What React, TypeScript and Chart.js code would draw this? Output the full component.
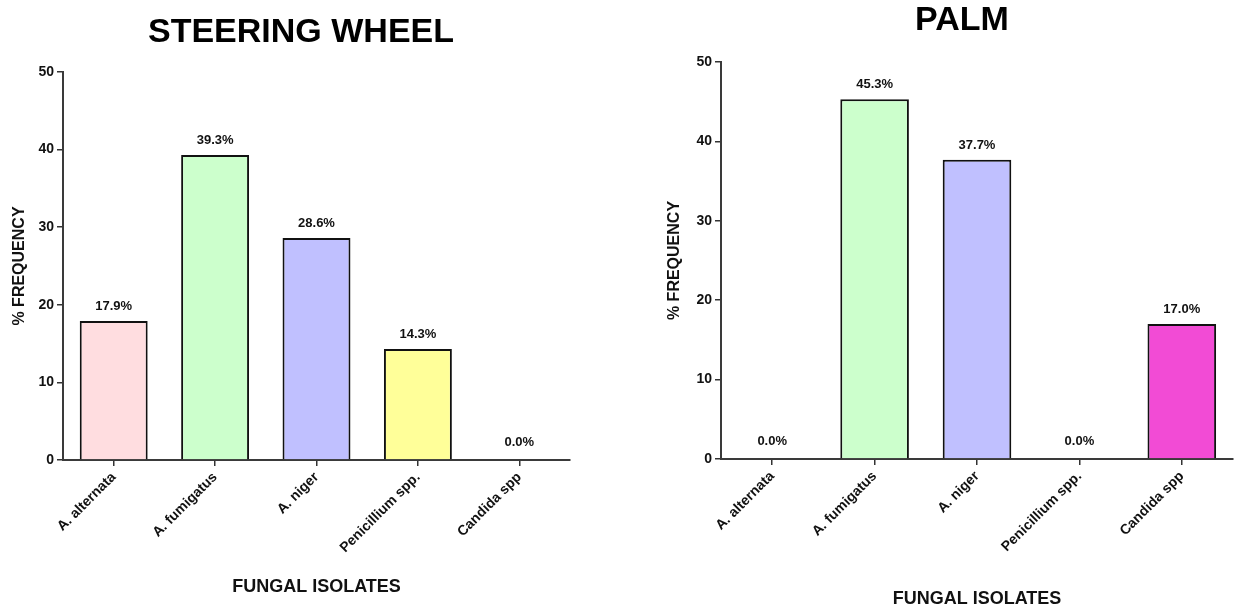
import React, { useEffect, useRef } from "react";
import { Chart, registerables } from "chart.js";

Chart.register(...registerables);

const categories = ["A. alternata", "A. fumigatus", "A. niger", "Penicillium spp.", "Candida spp"];
const steeringValues = [17.9, 39.3, 28.6, 14.3, 0.0];
const palmValues = [0.0, 45.3, 37.7, 0.0, 17.0];
const barColors = ["#FFDDE0", "#CCFFCC", "#C0C0FF", "#FFFF99", "#F24BD5"];
const yMin = 0;
const yMax = 50;
const yStep = 10;
const panelTitles = ["STEERING WHEEL", "PALM"];
const yAxisTitle = "% FREQUENCY";
const xAxisTitle = "FUNGAL ISOLATES";

const FONT = "'Liberation Sans', Arial, Helvetica, sans-serif";

const valueLabels = {
  id: "valueLabels",
  afterDatasetsDraw(chart: any) {
    const ctx = chart.ctx;
    const meta = chart.getDatasetMeta(0);
    const data = chart.data.datasets[0].data as number[];
    ctx.save();
    ctx.font = `bold 13px ${FONT}`;
    ctx.fillStyle = "#111";
    ctx.textAlign = "center";
    ctx.textBaseline = "bottom";
    meta.data.forEach((bar: any, i: number) => {
      const v = data[i];
      const off = v === 0 ? 11 : 8;
      ctx.fillText(v.toFixed(1) + "%", bar.x, bar.y - off);
    });
    ctx.restore();
  },
};

type PanelProps = {
  values: number[];
  title: string;
  left: number;
  width: number;
  yWidth: number;
  rightPad: number;
  titlePad: { top: number; bottom: number };
  yTitlePad: number;
  xHeight: number;
  xTitlePad: number;
};

function Panel(p: PanelProps) {
  const ref = useRef<HTMLCanvasElement | null>(null);
  useEffect(() => {
    if (!ref.current) return;
    const chart = new Chart(ref.current, {
      type: "bar",
      data: {
        labels: categories,
        datasets: [
          {
            data: p.values,
            backgroundColor: barColors,
            borderColor: "#111",
            borderWidth: 2,
            categoryPercentage: 1,
            barPercentage: 0.67,
          },
        ],
      },
      plugins: [valueLabels],
      options: {
        animation: false,
        responsive: true,
        maintainAspectRatio: false,
        layout: { padding: 0 },
        plugins: {
          legend: { display: false },
          tooltip: { enabled: false },
          title: {
            display: true,
            text: p.title,
            color: "#000",
            font: { family: FONT, size: 34, weight: "bold", lineHeight: 1 },
            padding: p.titlePad,
          },
        },
        scales: {
          x: {
            offset: true,
            grid: {
              display: true,
              offset: false,
              drawOnChartArea: false,
              drawTicks: true,
              tickLength: 6,
              color: "#333",
              lineWidth: 1.5,
            },
            border: { display: true, color: "#3a3a3a", width: 2 },
            ticks: {
              maxRotation: 45,
              minRotation: 45,
              autoSkip: false,
              padding: 3,
              color: "#111",
              font: { family: FONT, size: 14, weight: "bold" },
            },
            title: {
              display: true,
              text: xAxisTitle,
              color: "#111",
              font: { family: FONT, size: 18, weight: "bold", lineHeight: 1.2 },
              padding: { top: 0, bottom: p.xTitlePad },
            },
            afterFit: (s: any) => {
              s.height = p.xHeight;
            },
          },
          y: {
            min: yMin,
            max: yMax,
            grid: {
              display: true,
              drawOnChartArea: false,
              drawTicks: true,
              tickLength: 6,
              color: "#333",
              lineWidth: 1.5,
            },
            border: { display: true, color: "#3a3a3a", width: 2 },
            ticks: {
              stepSize: yStep,
              padding: 3,
              color: "#111",
              font: { family: FONT, size: 14, weight: "bold" },
            },
            title: {
              display: true,
              text: yAxisTitle,
              color: "#111",
              font: { family: FONT, size: 16, weight: "bold", lineHeight: 1.2 },
              padding: { top: p.yTitlePad, bottom: 0 },
            },
            afterFit: (s: any) => {
              s.width = p.yWidth;
            },
          },
          spacer: {
            type: "linear",
            position: "right",
            display: true,
            grid: { display: false, drawTicks: false },
            border: { display: false },
            ticks: { display: false },
            afterFit: (s: any) => {
              s.width = p.rightPad;
            },
          },
        },
      } as any,
    });
    return () => chart.destroy();
  }, []);
  return (
    <div
      style={{
        position: "absolute",
        left: p.left,
        top: 0,
        width: p.width,
        height: 610,
      }}
    >
      <canvas ref={ref} />
    </div>
  );
}

export default function App() {
  return (
    <div
      style={{
        position: "absolute",
        left: 0,
        top: 0,
        width: 1243,
        height: 610,
        overflow: "hidden",
        background: "#fff",
      }}
    >
      <Panel
        values={steeringValues}
        title={panelTitles[0]}
        left={0}
        width={602}
        yWidth={63}
        rightPad={32}
        titlePad={{ top: 16, bottom: 22 }}
        yTitlePad={10}
        xHeight={150}
        xTitlePad={12}
      />
      <Panel
        values={palmValues}
        title={panelTitles[1]}
        left={660}
        width={604}
        yWidth={61}
        rightPad={31}
        titlePad={{ top: 4, bottom: 24 }}
        yTitlePad={5}
        xHeight={151}
        xTitlePad={0}
      />
    </div>
  );
}
